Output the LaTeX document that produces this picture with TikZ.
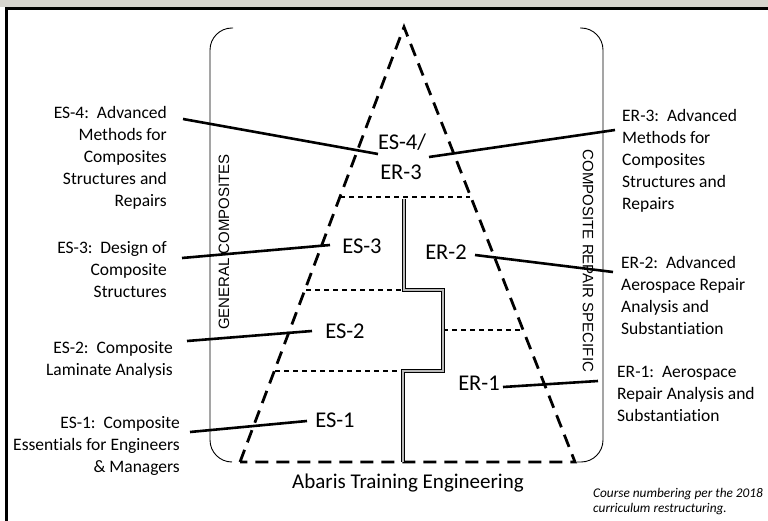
\documentclass[tikz,border=0pt]{standalone}
\usepackage{fontspec}
\setmainfont{Carlito}[Ligatures=NoCommon]
\newfontfamily\arialf{Liberation Sans}
\definecolor{stripgray}{RGB}{214,212,206}
\begin{document}
\begin{tikzpicture}[x=1pt,y=-1pt,
  tri/.style={line width=2.8pt, dash pattern=on 13pt off 8pt},
  levelline/.style={line width=1.4pt, dash pattern=on 5pt off 4pt},
  link/.style={line width=2.6pt},
  brack/.style={line width=0.9pt, rounded corners=22pt},
  divider/.style={double=gray!55, double distance=1.8pt, line width=0.8pt},
  sidelab/.style={font=\fontsize{17.5}{22}\selectfont, inner sep=0pt},
  inlab/.style={font=\fontsize{22.5}{26}\selectfont, inner sep=0pt},
  vertlab/.style={font=\arialf\fontsize{15}{18}\selectfont, inner sep=0pt},
  notelab/.style={font=\itshape\fontsize{13.3}{15}\selectfont, inner sep=0pt, align=left}]
\useasboundingbox (0,0) rectangle (768,521);
\clip (0,0) rectangle (768,521);
\fill[white] (0,0) rectangle (768,521);
\fill[stripgray] (0,0) rectangle (768,7);
% frame
\draw[line width=3pt] (6,521) -- (6,9) -- (768,9);
% triangle
\coordinate (apex) at (404,27);
\coordinate (bl) at (240,462);
\coordinate (br) at (575,462);
\draw[tri] (bl) -- (apex) -- (br) -- cycle;
% level lines
\draw[levelline] (340,197) -- (470,197);
\draw[levelline] (306,290) -- (404,290);
\draw[levelline] (443,330) -- (522,330);
\draw[levelline] (275,371) -- (403,371);
% divider
\draw[divider] (404,199) -- (404,290) -- (443,290) -- (443,371) -- (403,371) -- (403,462);
% brackets
\draw[brack] (233,28) -- (210,28) -- (210,462) -- (232,462);
\draw[brack] (580,28) -- (603,28) -- (603,462) -- (577,462);
% vertical labels
\node[vertlab, rotate=90] (gen) at (224,242) {GENERAL COMPOSITES};
\node[vertlab, rotate=-90] (rep) at (588,261) {COMPOSITE REPAIR SPECIFIC};
% inner labels
\node[inlab] (es4) at (402,142) {ES-4/};
\node[inlab] (er3) at (401,172) {ER-3};
\node[inlab] (es3) at (362,246) {ES-3};
\node[inlab] (er2) at (446,252) {ER-2};
\node[inlab] (es2) at (345,331) {ES-2};
\node[inlab] (er1) at (479,383) {ER-1};
\node[inlab] (es1) at (335,420) {ES-1};
\node[font=\fontsize{21}{24}\selectfont, inner sep=0pt] (title) at (408,483) {Abaris Training Engineering};
% side labels
\node[sidelab, align=right, anchor=north east] (les4) at (167,106) {ES-4:\ \ Advanced\\Methods for\\Composites\\Structures and\\Repairs};
\node[sidelab, align=right, anchor=north east] (les3) at (167,241) {ES-3:\ \ Design of\\Composite\\Structures};
\node[sidelab, align=right, anchor=north east] (les2) at (173,341) {ES-2:\ \ Composite\\Laminate Analysis};
\node[sidelab, align=right, anchor=north east] (les1) at (180,416) {ES-1:\ \ Composite\\Essentials for Engineers\\\& Managers};
\node[sidelab, align=left, anchor=north west] (ler3) at (622,109) {ER-3:\ \ Advanced\\Methods for\\Composites\\Structures and\\Repairs};
\node[sidelab, align=left, anchor=north west] (ler2) at (621,256) {ER-2:\ \ Advanced\\Aerospace Repair\\Analysis and\\Substantiation};
\node[sidelab, align=left, anchor=north west] (ler1) at (617,366) {ER-1:\ \ Aerospace\\Repair Analysis and\\Substantiation};
% note
\node[notelab, anchor=north west] (note) at (593,488) {Course numbering per the 2018\\curriculum restructuring.};
% connectors
\coordinate (c4a) at (183,119); \coordinate (c4b) at (378,154);
\coordinate (r3a) at (429,157); \coordinate (r3b) at (615,130);
\coordinate (c3a) at (182,258); \coordinate (c3b) at (330,245);
\coordinate (r2a) at (475,255); \coordinate (r2b) at (613,272);
\coordinate (c2a) at (187,341); \coordinate (c2b) at (312,331);
\coordinate (r1a) at (503,387); \coordinate (r1b) at (598,381);
\coordinate (c1a) at (190,432); \coordinate (c1b) at (307,421);
\draw[link] (c4a) -- (c4b);
\draw[link] (r3a) -- (r3b);
\draw[link] (c3a) -- (c3b);
\draw[link] (r2a) -- (r2b);
\draw[link] (c2a) -- (c2b);
\draw[link] (r1a) -- (r1b);
\draw[link] (c1a) -- (c1b);
\end{tikzpicture}
\end{document}
